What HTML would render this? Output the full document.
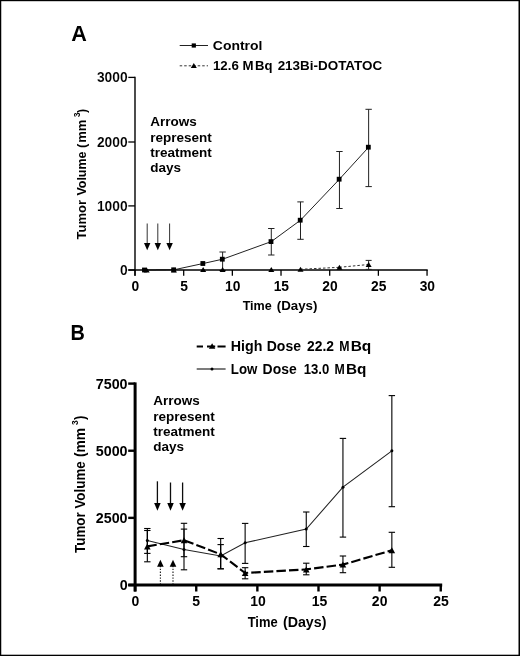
<!DOCTYPE html>
<html><head><meta charset="utf-8"><title>Figure</title>
<style>html,body{margin:0;padding:0;background:#fff;}body{width:520px;height:656px;overflow:hidden;font-family:"Liberation Sans",sans-serif;}svg{display:block;}</style>
</head><body>
<svg width="520" height="656" viewBox="0 0 520 656" font-family="Liberation Sans, sans-serif" font-weight="bold" fill="#000">
<g filter="url(#bl)">
<rect x="0" y="0" width="520" height="656" fill="#fff"/>
<polyline points="144.74,270.00 173.94,269.80 203.14,263.50 222.62,259.20 271.29,241.60 300.50,220.20 339.44,179.20 368.64,147.20" fill="none" stroke="#222" stroke-width="1"/>
<line x1="222.62" y1="252.00" x2="222.62" y2="270.50" stroke="#222" stroke-width="1" />
<line x1="219.42" y1="252.00" x2="225.81" y2="252.00" stroke="#222" stroke-width="1" />
<line x1="219.42" y1="270.50" x2="225.81" y2="270.50" stroke="#222" stroke-width="1" />
<line x1="271.29" y1="228.50" x2="271.29" y2="255.00" stroke="#222" stroke-width="1" />
<line x1="268.09" y1="228.50" x2="274.49" y2="228.50" stroke="#222" stroke-width="1" />
<line x1="268.09" y1="255.00" x2="274.49" y2="255.00" stroke="#222" stroke-width="1" />
<line x1="300.50" y1="201.90" x2="300.50" y2="239.30" stroke="#222" stroke-width="1" />
<line x1="297.30" y1="201.90" x2="303.69" y2="201.90" stroke="#222" stroke-width="1" />
<line x1="297.30" y1="239.30" x2="303.69" y2="239.30" stroke="#222" stroke-width="1" />
<line x1="339.44" y1="151.50" x2="339.44" y2="208.50" stroke="#222" stroke-width="1" />
<line x1="336.24" y1="151.50" x2="342.63" y2="151.50" stroke="#222" stroke-width="1" />
<line x1="336.24" y1="208.50" x2="342.63" y2="208.50" stroke="#222" stroke-width="1" />
<line x1="368.64" y1="109.30" x2="368.64" y2="186.60" stroke="#222" stroke-width="1" />
<line x1="365.44" y1="109.30" x2="371.84" y2="109.30" stroke="#222" stroke-width="1" />
<line x1="365.44" y1="186.60" x2="371.84" y2="186.60" stroke="#222" stroke-width="1" />
<line x1="135.00" y1="76.80" x2="135.00" y2="275.80" stroke="#000" stroke-width="1.4" />
<line x1="128.30" y1="270.00" x2="427.70" y2="270.00" stroke="#000" stroke-width="1.4" />
<line x1="128.30" y1="270.00" x2="135.00" y2="270.00" stroke="#000" stroke-width="1.3" />
<text transform="translate(119.89,274.85) scale(1,1)" font-size="13.8" stroke="#fff" stroke-width="0.12">0</text>
<line x1="128.30" y1="205.90" x2="135.00" y2="205.90" stroke="#000" stroke-width="1.3" />
<text transform="translate(96.88,210.75) scale(1,1)" font-size="13.8" stroke="#fff" stroke-width="0.12">1000</text>
<line x1="128.30" y1="142.00" x2="135.00" y2="142.00" stroke="#000" stroke-width="1.3" />
<text transform="translate(96.88,146.85) scale(1,1)" font-size="13.8" stroke="#fff" stroke-width="0.12">2000</text>
<line x1="128.30" y1="77.40" x2="135.00" y2="77.40" stroke="#000" stroke-width="1.3" />
<text transform="translate(96.88,82.25) scale(1,1)" font-size="13.8" stroke="#fff" stroke-width="0.12">3000</text>
<line x1="135.00" y1="270.00" x2="135.00" y2="275.80" stroke="#000" stroke-width="1.3" />
<text transform="translate(135.30,291.10) scale(1,1)" font-size="13.8" text-anchor="middle" >0</text>
<line x1="183.68" y1="270.00" x2="183.68" y2="275.80" stroke="#000" stroke-width="1.3" />
<text transform="translate(183.98,291.10) scale(1,1)" font-size="13.8" text-anchor="middle" >5</text>
<line x1="232.35" y1="270.00" x2="232.35" y2="275.80" stroke="#000" stroke-width="1.3" />
<text transform="translate(232.65,291.10) scale(1,1)" font-size="13.8" text-anchor="middle" >10</text>
<line x1="281.02" y1="270.00" x2="281.02" y2="275.80" stroke="#000" stroke-width="1.3" />
<text transform="translate(281.32,291.10) scale(1,1)" font-size="13.8" text-anchor="middle" >15</text>
<line x1="329.70" y1="270.00" x2="329.70" y2="275.80" stroke="#000" stroke-width="1.3" />
<text transform="translate(330.00,291.10) scale(1,1)" font-size="13.8" text-anchor="middle" >20</text>
<line x1="378.38" y1="270.00" x2="378.38" y2="275.80" stroke="#000" stroke-width="1.3" />
<text transform="translate(378.68,291.10) scale(1,1)" font-size="13.8" text-anchor="middle" >25</text>
<line x1="427.05" y1="270.00" x2="427.05" y2="275.80" stroke="#000" stroke-width="1.3" />
<text transform="translate(427.35,291.10) scale(1,1)" font-size="13.8" text-anchor="middle" >30</text>
<line x1="300.50" y1="269.30" x2="339.44" y2="267.30" stroke="#333" stroke-width="1" stroke-dasharray="2.5 2"/>
<line x1="339.44" y1="267.30" x2="368.64" y2="264.50" stroke="#333" stroke-width="1" stroke-dasharray="2.5 2"/>
<line x1="368.64" y1="260.40" x2="368.64" y2="269.40" stroke="#222" stroke-width="1" />
<line x1="365.64" y1="260.40" x2="371.64" y2="260.40" stroke="#222" stroke-width="1" />
<line x1="365.64" y1="269.40" x2="371.64" y2="269.40" stroke="#222" stroke-width="1" />
<polygon points="146.68,267.50 149.68,272.50 143.68,272.50" fill="#000"/>
<polygon points="173.94,267.50 176.94,272.50 170.94,272.50" fill="#000"/>
<polygon points="203.14,267.10 206.14,272.10 200.14,272.10" fill="#000"/>
<polygon points="222.62,267.10 225.62,272.10 219.62,272.10" fill="#000"/>
<polygon points="271.29,267.10 274.29,272.10 268.29,272.10" fill="#000"/>
<polygon points="300.50,266.80 303.50,271.80 297.50,271.80" fill="#000"/>
<polygon points="339.44,264.80 342.44,269.80 336.44,269.80" fill="#000"/>
<polygon points="368.64,262.00 371.64,267.00 365.64,267.00" fill="#000"/>
<rect x="142.03" y="267.60" width="4.8" height="4.8" fill="#000"/>
<rect x="171.24" y="267.40" width="4.8" height="4.8" fill="#000"/>
<rect x="200.44" y="261.10" width="4.8" height="4.8" fill="#000"/>
<rect x="219.91" y="256.80" width="4.8" height="4.8" fill="#000"/>
<rect x="268.59" y="239.20" width="4.8" height="4.8" fill="#000"/>
<rect x="297.80" y="217.80" width="4.8" height="4.8" fill="#000"/>
<rect x="336.74" y="176.80" width="4.8" height="4.8" fill="#000"/>
<rect x="365.94" y="144.80" width="4.8" height="4.8" fill="#000"/>
<line x1="147.20" y1="223.50" x2="147.20" y2="243.90" stroke="#333" stroke-width="1" />
<polygon points="144.00,242.90 150.40,242.90 147.20,250.20" fill="#000"/>
<line x1="157.80" y1="223.50" x2="157.80" y2="243.90" stroke="#333" stroke-width="1" />
<polygon points="154.60,242.90 161.00,242.90 157.80,250.20" fill="#000"/>
<line x1="169.60" y1="223.50" x2="169.60" y2="243.90" stroke="#333" stroke-width="1" />
<polygon points="166.40,242.90 172.80,242.90 169.60,250.20" fill="#000"/>
<text transform="translate(71.36,40.80) scale(1.0000,1)" font-size="21.6" >A</text>
<line x1="179.70" y1="45.50" x2="208.00" y2="45.50" stroke="#222" stroke-width="1" />
<rect x="191.70" y="43.40" width="4.2" height="4.2" fill="#000"/>
<text transform="translate(212.84,50.00) scale(1.0342,1)" font-size="13.5" >Control</text>
<line x1="179.70" y1="65.80" x2="208.00" y2="65.80" stroke="#333" stroke-width="1" stroke-dasharray="2.5 2"/>
<polygon points="193.80,62.90 196.80,67.90 190.80,67.90" fill="#000"/>
<text transform="translate(212.97,70.00) scale(0.9843,1)" font-size="13.5" >12.6 M</text>
<text transform="translate(255.02,70.00) scale(0.9691,1)" font-size="13.5" >Bq</text>
<text transform="translate(277.63,70.00) scale(0.9963,1)" font-size="13.5" >213Bi-DOTATOC</text>
<text transform="translate(150.25,125.80) scale(1,1)" font-size="13.5" text-anchor="start" >Arrows</text>
<text transform="translate(150.25,141.50) scale(1,1)" font-size="13.5" text-anchor="start" >represent</text>
<text transform="translate(150.25,156.90) scale(1,1)" font-size="13.5" text-anchor="start" >treatment</text>
<text transform="translate(150.25,172.30) scale(1,1)" font-size="13.5" text-anchor="start" >days</text>
<text transform="translate(242.64,309.70) scale(0.9473,1)" font-size="13.3" >Time</text>
<text transform="translate(276.74,309.70) scale(1.0000,1)" font-size="13.3" >(Days)</text>
<text transform="translate(86.30,239.50) rotate(-90) scale(1,1.05) translate(0.00,0) scale(1.0031,1)" font-size="13">Tumor</text>
<text transform="translate(86.30,239.50) rotate(-90) scale(1,1.05) translate(43.90,0) scale(0.9589,1)" font-size="13">Volume</text>
<text transform="translate(86.30,239.50) rotate(-90) scale(1,1.05) translate(91.50,0) scale(0.9933,1)" font-size="13">(</text>
<text transform="translate(86.30,239.50) rotate(-90) scale(1,1.05) translate(96.70,0) scale(1.0078,1)" font-size="13">mm</text>
<text transform="translate(86.30,239.50) rotate(-90) scale(1,1.05) translate(122.60,-6.4) scale(1.0114,1)" font-size="8">3</text>
<text transform="translate(86.30,239.50) rotate(-90) scale(1,1.05) translate(126.50,0) scale(0.9471,1)" font-size="13">)</text>
<polyline points="147.33,540.50 184.00,549.60 220.68,556.00 245.13,542.80 306.26,529.00 342.94,487.20 391.85,450.80" fill="none" stroke="#222" stroke-width="1.05"/>
<line x1="147.33" y1="528.50" x2="147.33" y2="553.40" stroke="#000" stroke-width="1.1" />
<line x1="144.13" y1="528.50" x2="150.53" y2="528.50" stroke="#000" stroke-width="1.1" />
<line x1="144.13" y1="553.40" x2="150.53" y2="553.40" stroke="#000" stroke-width="1.1" />
<circle cx="147.33" cy="540.5" r="1.5" fill="#000"/>
<line x1="184.00" y1="529.10" x2="184.00" y2="569.80" stroke="#000" stroke-width="1.1" />
<line x1="180.80" y1="529.10" x2="187.20" y2="529.10" stroke="#000" stroke-width="1.1" />
<line x1="180.80" y1="569.80" x2="187.20" y2="569.80" stroke="#000" stroke-width="1.1" />
<circle cx="184.00" cy="549.6" r="1.5" fill="#000"/>
<line x1="220.68" y1="544.60" x2="220.68" y2="568.80" stroke="#000" stroke-width="1.1" />
<line x1="217.48" y1="544.60" x2="223.88" y2="544.60" stroke="#000" stroke-width="1.1" />
<line x1="217.48" y1="568.80" x2="223.88" y2="568.80" stroke="#000" stroke-width="1.1" />
<circle cx="220.68" cy="556" r="1.5" fill="#000"/>
<line x1="245.13" y1="523.40" x2="245.13" y2="563.40" stroke="#000" stroke-width="1.1" />
<line x1="241.93" y1="523.40" x2="248.33" y2="523.40" stroke="#000" stroke-width="1.1" />
<line x1="241.93" y1="563.40" x2="248.33" y2="563.40" stroke="#000" stroke-width="1.1" />
<circle cx="245.13" cy="542.8" r="1.5" fill="#000"/>
<line x1="306.26" y1="512.00" x2="306.26" y2="546.50" stroke="#000" stroke-width="1.1" />
<line x1="303.06" y1="512.00" x2="309.46" y2="512.00" stroke="#000" stroke-width="1.1" />
<line x1="303.06" y1="546.50" x2="309.46" y2="546.50" stroke="#000" stroke-width="1.1" />
<circle cx="306.26" cy="529" r="1.5" fill="#000"/>
<line x1="342.94" y1="438.40" x2="342.94" y2="537.10" stroke="#000" stroke-width="1.1" />
<line x1="339.74" y1="438.40" x2="346.14" y2="438.40" stroke="#000" stroke-width="1.1" />
<line x1="339.74" y1="537.10" x2="346.14" y2="537.10" stroke="#000" stroke-width="1.1" />
<circle cx="342.94" cy="487.2" r="1.5" fill="#000"/>
<line x1="391.85" y1="395.60" x2="391.85" y2="506.70" stroke="#000" stroke-width="1.1" />
<line x1="388.65" y1="395.60" x2="395.05" y2="395.60" stroke="#000" stroke-width="1.1" />
<line x1="388.65" y1="506.70" x2="395.05" y2="506.70" stroke="#000" stroke-width="1.1" />
<circle cx="391.85" cy="450.8" r="1.5" fill="#000"/>
<polyline points="147.33,546.40 184.00,540.20 220.68,554.30 245.13,573.00 306.26,569.40 342.94,564.60 391.85,550.30" fill="none" stroke="#000" stroke-width="2.1" stroke-dasharray="9.5 3.1"/>
<line x1="147.33" y1="530.50" x2="147.33" y2="561.80" stroke="#000" stroke-width="1.1" />
<line x1="144.13" y1="530.50" x2="150.53" y2="530.50" stroke="#000" stroke-width="1.1" />
<line x1="144.13" y1="561.80" x2="150.53" y2="561.80" stroke="#000" stroke-width="1.1" />
<polygon points="147.33,543.40 150.63,549.40 144.03,549.40" fill="#000"/>
<line x1="184.00" y1="523.30" x2="184.00" y2="556.70" stroke="#000" stroke-width="1.1" />
<line x1="180.80" y1="523.30" x2="187.20" y2="523.30" stroke="#000" stroke-width="1.1" />
<line x1="180.80" y1="556.70" x2="187.20" y2="556.70" stroke="#000" stroke-width="1.1" />
<polygon points="184.00,537.20 187.30,543.20 180.70,543.20" fill="#000"/>
<line x1="220.68" y1="538.50" x2="220.68" y2="568.80" stroke="#000" stroke-width="1.1" />
<line x1="217.48" y1="538.50" x2="223.88" y2="538.50" stroke="#000" stroke-width="1.1" />
<line x1="217.48" y1="568.80" x2="223.88" y2="568.80" stroke="#000" stroke-width="1.1" />
<polygon points="220.68,551.30 223.98,557.30 217.38,557.30" fill="#000"/>
<line x1="245.13" y1="567.70" x2="245.13" y2="578.80" stroke="#000" stroke-width="1.1" />
<line x1="241.93" y1="567.70" x2="248.33" y2="567.70" stroke="#000" stroke-width="1.1" />
<line x1="241.93" y1="578.80" x2="248.33" y2="578.80" stroke="#000" stroke-width="1.1" />
<polygon points="245.13,570.00 248.43,576.00 241.83,576.00" fill="#000"/>
<line x1="306.26" y1="563.20" x2="306.26" y2="574.80" stroke="#000" stroke-width="1.1" />
<line x1="303.06" y1="563.20" x2="309.46" y2="563.20" stroke="#000" stroke-width="1.1" />
<line x1="303.06" y1="574.80" x2="309.46" y2="574.80" stroke="#000" stroke-width="1.1" />
<polygon points="306.26,566.40 309.56,572.40 302.96,572.40" fill="#000"/>
<line x1="342.94" y1="556.00" x2="342.94" y2="572.70" stroke="#000" stroke-width="1.1" />
<line x1="339.74" y1="556.00" x2="346.14" y2="556.00" stroke="#000" stroke-width="1.1" />
<line x1="339.74" y1="572.70" x2="346.14" y2="572.70" stroke="#000" stroke-width="1.1" />
<polygon points="342.94,561.60 346.24,567.60 339.64,567.60" fill="#000"/>
<line x1="391.85" y1="532.30" x2="391.85" y2="567.30" stroke="#000" stroke-width="1.1" />
<line x1="388.65" y1="532.30" x2="395.05" y2="532.30" stroke="#000" stroke-width="1.1" />
<line x1="388.65" y1="567.30" x2="395.05" y2="567.30" stroke="#000" stroke-width="1.1" />
<polygon points="391.85,547.30 395.15,553.30 388.55,553.30" fill="#000"/>
<line x1="135.10" y1="382.40" x2="135.10" y2="591.50" stroke="#000" stroke-width="3.0" />
<line x1="128.30" y1="585.00" x2="442.20" y2="585.00" stroke="#000" stroke-width="3.0" />
<line x1="128.20" y1="585.00" x2="135.10" y2="585.00" stroke="#000" stroke-width="2.4" />
<text transform="translate(119.64,590.30) scale(1,1.06)" font-size="14.3" >0</text>
<line x1="128.20" y1="517.87" x2="135.10" y2="517.87" stroke="#000" stroke-width="2.4" />
<text transform="translate(95.79,523.17) scale(1,1.06)" font-size="14.3" >2500</text>
<line x1="128.20" y1="450.73" x2="135.10" y2="450.73" stroke="#000" stroke-width="2.4" />
<text transform="translate(95.79,456.03) scale(1,1.06)" font-size="14.3" >5000</text>
<line x1="128.20" y1="383.60" x2="135.10" y2="383.60" stroke="#000" stroke-width="2.4" />
<text transform="translate(95.79,388.90) scale(1,1.06)" font-size="14.3" >7500</text>
<line x1="135.10" y1="585.00" x2="135.10" y2="591.50" stroke="#000" stroke-width="2.4" />
<text transform="translate(135.40,606.40) scale(1,1.08)" font-size="14.0" text-anchor="middle" >0</text>
<line x1="196.23" y1="585.00" x2="196.23" y2="591.50" stroke="#000" stroke-width="2.4" />
<text transform="translate(196.23,606.40) scale(1,1.08)" font-size="14.0" text-anchor="middle" >5</text>
<line x1="257.36" y1="585.00" x2="257.36" y2="591.50" stroke="#000" stroke-width="2.4" />
<text transform="translate(257.96,606.40) scale(1,1.08)" font-size="14.0" text-anchor="middle" >10</text>
<line x1="318.49" y1="585.00" x2="318.49" y2="591.50" stroke="#000" stroke-width="2.4" />
<text transform="translate(319.49,606.40) scale(1,1.08)" font-size="14.0" text-anchor="middle" >15</text>
<line x1="379.62" y1="585.00" x2="379.62" y2="591.50" stroke="#000" stroke-width="2.4" />
<text transform="translate(379.62,606.40) scale(1,1.08)" font-size="14.0" text-anchor="middle" >20</text>
<line x1="440.75" y1="585.00" x2="440.75" y2="591.50" stroke="#000" stroke-width="2.4" />
<text transform="translate(441.05,606.40) scale(1,1.08)" font-size="14.0" text-anchor="middle" >25</text>
<line x1="157.40" y1="481.30" x2="157.40" y2="503.90" stroke="#111" stroke-width="1.3" />
<polygon points="154.15,502.90 160.65,502.90 157.40,510.70" fill="#000"/>
<line x1="170.50" y1="482.50" x2="170.50" y2="503.90" stroke="#111" stroke-width="1.3" />
<polygon points="167.25,502.90 173.75,502.90 170.50,510.70" fill="#000"/>
<line x1="182.60" y1="482.50" x2="182.60" y2="503.90" stroke="#111" stroke-width="1.3" />
<polygon points="179.35,502.90 185.85,502.90 182.60,510.70" fill="#000"/>
<line x1="160.40" y1="565.80" x2="160.40" y2="584.00" stroke="#222" stroke-width="1.15" stroke-dasharray="1.4 1.5"/>
<polygon points="157.10,566.80 163.70,566.80 160.40,559.80" fill="#000"/>
<line x1="173.00" y1="565.80" x2="173.00" y2="584.00" stroke="#222" stroke-width="1.15" stroke-dasharray="1.4 1.5"/>
<polygon points="169.70,566.80 176.30,566.80 173.00,559.80" fill="#000"/>
<text transform="translate(70.46,340.30) scale(0.9446,1.02)" font-size="21" >B</text>
<line x1="196.70" y1="346.50" x2="225.60" y2="346.50" stroke="#000" stroke-width="2.1" stroke-dasharray="6.3 4 8.2 2.3 8.2 10"/>
<polygon points="212.10,343.30 215.30,348.70 208.90,348.70" fill="#000"/>
<text transform="translate(230.74,351.30) scale(1.0172,1)" font-size="14" >High</text>
<text transform="translate(266.76,351.30) scale(0.9991,1)" font-size="14" >Dose</text>
<text transform="translate(307.12,351.30) scale(0.9893,1)" font-size="14" >22.2</text>
<text transform="translate(339.37,351.30) scale(0.8807,1)" font-size="14" >M</text>
<text transform="translate(350.65,351.30) scale(1.1071,1)" font-size="14" >Bq</text>
<line x1="196.70" y1="369.00" x2="225.60" y2="369.00" stroke="#111" stroke-width="1.1" />
<circle cx="212" cy="369" r="1.5" fill="#000"/>
<text transform="translate(230.80,373.80) scale(0.9487,1)" font-size="14" >Low</text>
<text transform="translate(262.56,373.80) scale(0.9960,1)" font-size="14" >Dose</text>
<text transform="translate(303.68,373.80) scale(0.9382,1)" font-size="14" >13.0</text>
<text transform="translate(334.57,373.80) scale(0.8807,1)" font-size="14" >M</text>
<text transform="translate(345.96,373.80) scale(1.0952,1)" font-size="14" >Bq</text>
<text transform="translate(153.15,404.80) scale(1,1)" font-size="13.5" text-anchor="start" >Arrows</text>
<text transform="translate(153.15,421.00) scale(1,1)" font-size="13.5" text-anchor="start" >represent</text>
<text transform="translate(153.15,436.30) scale(1,1)" font-size="13.5" text-anchor="start" >treatment</text>
<text transform="translate(153.15,451.30) scale(1,1)" font-size="13.5" text-anchor="start" >days</text>
<text transform="translate(247.64,627.40) scale(0.9385,1)" font-size="13.8" >Time</text>
<text transform="translate(282.89,627.40) scale(1.0324,1)" font-size="13.8" >(Days)</text>
<text transform="translate(85.00,552.90) rotate(-90) scale(1,1.05) translate(0.00,0) scale(0.9840,1)" font-size="13.6">Tumor Volume</text>
<text transform="translate(85.00,552.90) rotate(-90) scale(1,1.05) translate(96.00,0) scale(0.9715,1)" font-size="13.6">(</text>
<text transform="translate(85.00,552.90) rotate(-90) scale(1,1.05) translate(100.40,0) scale(1.0171,1)" font-size="13.6">mm</text>
<text transform="translate(85.00,552.90) rotate(-90) scale(1,1.05) translate(127.80,-7.0) scale(0.9942,1)" font-size="8.5">3</text>
<text transform="translate(85.00,552.90) rotate(-90) scale(1,1.05) translate(132.90,0) scale(0.9715,1)" font-size="13.6">)</text>
</g>
<rect x="0" y="0" width="520" height="1.2" fill="#000"/><rect x="0" y="0" width="1.25" height="656" fill="#000"/><rect x="518.5" y="0" width="1.5" height="656" fill="#000"/><rect x="0" y="654.7" width="520" height="1.3" fill="#000"/>
<defs><filter id="bl" x="0" y="0" width="100%" height="100%"><feGaussianBlur stdDeviation="0.45"/></filter></defs>
</svg>
</body></html>
